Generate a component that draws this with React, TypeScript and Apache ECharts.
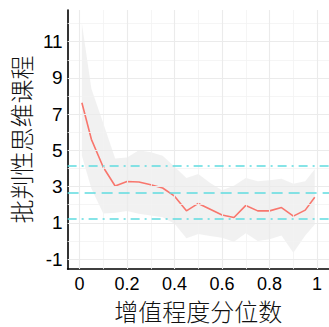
import React, { useEffect, useRef } from "react";
import * as echarts from "echarts";

const xs = [0.01, 0.05, 0.1, 0.15, 0.2, 0.25, 0.3, 0.35, 0.4, 0.45, 0.5, 0.55, 0.6, 0.65, 0.7, 0.75, 0.8, 0.85, 0.9, 0.95, 0.99];
const meanVals = [7.63, 5.61, 4.07, 3.03, 3.28, 3.25, 3.1, 2.92, 2.47, 1.66, 2.07, 1.75, 1.43, 1.29, 1.96, 1.66, 1.66, 1.84, 1.37, 1.7, 2.41];
const upperVals = [12.0, 8.4, 6.5, 4.55, 4.6, 5.0, 4.9, 4.7, 4.1, 3.48, 3.7, 3.2, 2.8, 3.05, 3.48, 3.3, 3.35, 3.43, 3.16, 3.3, 3.96];
const lowerVals = [4.7, 2.9, 1.52, 1.55, 1.65, 1.5, 1.4, 1.3, 0.95, 0.15, 0.38, 0.27, 0.18, -0.05, 0.42, 0.0, 0.09, 0.3, -0.65, 0.3, 0.9];

const hMean = 2.68;
const hUpper = 4.16;
const hLower = 1.21;

const xTicks = [0, 0.2, 0.4, 0.6, 0.8, 1];
const xMinor = [0.1, 0.3, 0.5, 0.7, 0.9];
const yTicks = [-1, 1, 3, 5, 7, 9, 11];
const yMinor = [0, 2, 4, 6, 8, 10, 12];

const xTitle = "增值程度分位数";
const yTitle = "批判性思维课程";

const FONT = "'Liberation Sans', Arial, 'Noto Sans CJK SC', sans-serif";
const CJK = "'Noto Sans CJK SC', 'Liberation Sans', sans-serif";

export default function App() {
  const ref = useRef<HTMLDivElement>(null);
  useEffect(() => {
    if (!ref.current) return;
    const chart = echarts.init(ref.current, null, { renderer: "svg" });
    const majorStyle = { color: "#ebebeb", width: 1.1, type: "solid" as const };
    const minorStyle = { color: "#f2f2f2", width: 0.8, type: "solid" as const };
    const gridLines = [
      ...yMinor.map((v) => ({ yAxis: v, lineStyle: minorStyle })),
      ...xMinor.map((v) => ({ xAxis: v, lineStyle: minorStyle })),
      ...yTicks.map((v) => ({ yAxis: v, lineStyle: majorStyle })),
      ...xTicks.map((v) => ({ xAxis: v, lineStyle: majorStyle })),
    ];
    const cyan = "#5fdbe0";
    chart.setOption({
      animation: false,
      grid: { left: 66, top: 10, right: -1, bottom: 49.3, containLabel: false },
      xAxis: {
        type: "value",
        min: -0.05,
        max: 1.05,
        axisLine: { show: true, onZero: false, lineStyle: { color: "#000", width: 1.6 } },
        axisTick: { show: false, customValues: xTicks },
        axisLabel: {
          customValues: xTicks,
          color: "#000",
          fontSize: 18,
          fontFamily: FONT,
          margin: 6,
          formatter: (v: number) => String(v),
        },
        splitLine: { show: false },
        name: xTitle,
        nameLocation: "middle",
        nameGap: 22,
        nameTextStyle: { color: "#111", fontSize: 24, fontFamily: CJK, fontWeight: 300, verticalAlign: "top" },
      },
      yAxis: {
        type: "value",
        min: -1.556,
        max: 12.75,
        axisLine: { show: true, onZero: false, lineStyle: { color: "#000", width: 1.6 } },
        axisTick: { show: false, customValues: yTicks },
        axisLabel: {
          customValues: yTicks,
          color: "#000",
          fontSize: 19,
          fontFamily: FONT,
          margin: 5,
          formatter: (v: number) => String(v),
        },
        splitLine: { show: false },
        name: yTitle,
        nameLocation: "middle",
        nameRotate: 90,
        nameGap: 34,
        nameTextStyle: { color: "#111", fontSize: 24, fontFamily: CJK, fontWeight: 300 },
      },
      series: [
        {
          type: "line",
          data: [],
          z: 0,
          silent: true,
          markLine: {
            silent: true,
            symbol: ["none", "none"],
            label: { show: false },
            data: gridLines,
          },
        },
        {
          type: "custom",
          z: 1,
          silent: true,
          data: xs.map((x, i) => [x, upperVals[i], lowerVals[i]]),
          encode: { x: 0, y: [1, 2] },
          renderItem: (params: any, api: any) => {
            if (params.dataIndex !== 0) return null;
            const pts: number[][] = [];
            for (let i = 0; i < xs.length; i++) pts.push(api.coord([xs[i], upperVals[i]]));
            for (let i = xs.length - 1; i >= 0; i--) pts.push(api.coord([xs[i], lowerVals[i]]));
            return {
              type: "polygon",
              shape: { points: pts },
              style: { fill: "rgba(200,200,200,0.25)", stroke: "none" },
            };
          },
        },
        {
          type: "line",
          z: 2,
          data: xs.map((x, i) => [x, meanVals[i]]),
          symbol: "none",
          lineStyle: { color: "#F8766D", width: 1.6 },
          markLine: {
            silent: true,
            symbol: ["none", "none"],
            label: { show: false },
            data: [
              { yAxis: hMean, lineStyle: { color: cyan, width: 1.6, type: [11, 6] } },
              { yAxis: hUpper, lineStyle: { color: cyan, width: 1.6, type: [9, 5, 2, 5] } },
              { yAxis: hLower, lineStyle: { color: cyan, width: 1.6, type: [9, 5, 2, 5] } },
            ],
          },
        },
      ],
    });
    return () => chart.dispose();
  }, []);
  return (
    <div
      ref={ref}
      style={{ position: "fixed", left: 0, top: 0, width: 329, height: 327, background: "#fff" }}
    />
  );
}
